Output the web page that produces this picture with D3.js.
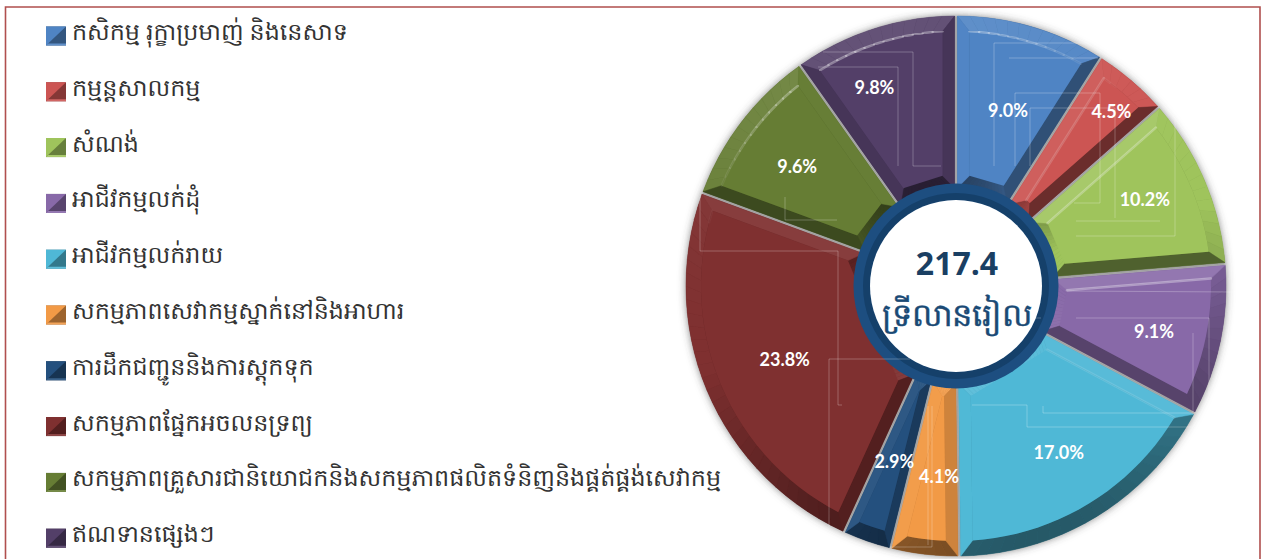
<!DOCTYPE html>
<html>
<head>
<meta charset="utf-8">
<script src="https://cdnjs.cloudflare.com/ajax/libs/d3/7.8.5/d3.min.js"></script>
<style>
html, body { margin: 0; padding: 0; background: #fff; }
svg { display: block; }
.legend text { text-rendering: geometricPrecision; }
</style>
</head>
<body>
<div id="chart"></div>
<script>
// sector names, clockwise from the top of the pie
var categories = [
    "កសិកម្ម រុក្ខាប្រមាញ់ និងនេសាទ",
    "កម្មន្តសាលកម្ម",
    "សំណង់",
    "អាជីវកម្មលក់ដុំ",
    "អាជីវកម្មលក់រាយ",
    "សកម្មភាពសេវាកម្មស្នាក់នៅនិងអាហារ",
    "ការដឹកជញ្ជូននិងការស្តុកទុក",
    "សកម្មភាពផ្នែកអចលនទ្រព្យ",
    "សកម្មភាពគ្រួសារជានិយោជកនិងសកម្មភាពផលិតទំនិញនិងផ្គត់ផ្គង់សេវាកម្ម",
    "ឥណទានផ្សេងៗ"
];
var values = [9.0, 4.5, 10.2, 9.1, 17.0, 4.1, 2.9, 23.8, 9.6, 9.8];
var colors = ["#4f84c4", "#cc5553", "#9fc45c", "#8869a8", "#4fb8d6", "#f29a46", "#24507e", "#7f3030", "#667d34", "#533f68"];
var centerValue = "217.4";
var centerUnit = "ទ្រីលានរៀល";

// layout only: how far each % label sits from its slice centroid
var labelNudge = [[-1, 7], [32, -30], [14, -12], [12, 7], [4, 4], [5, 2], [1, -4], [4, 0], [-8, -4], [-24, -17]];

// the faint stray box lines that sit on top of the pie in the original
var strayLines = [
    [[994, 166], [994, 43], [1089, 43]],
    [[1009, 58], [1098, 58]],
    [[1015, 166], [1015, 93], [1100, 93], [1100, 203], [1074, 203]],
    [[1030, 166], [1030, 108], [1115, 108], [1115, 218]],
    [[1076, 221], [1160, 221]],
    [[1076, 236], [1175, 236], [1175, 120]],
    [[823, 52], [913, 52], [913, 166], [941, 166]],
    [[818, 67], [898, 67], [898, 166]],
    [[941, 15], [941, 9], [969, 9], [969, 15]],
    [[785, 197], [785, 220], [837, 220]],
    [[700, 197], [700, 251], [838, 251], [838, 405], [842, 405]],
    [[829, 527], [829, 359], [910, 359]],
    [[932, 406], [932, 547], [890, 547]],
    [[928, 406], [928, 545]],
    [[972, 405], [1027, 405], [1027, 427], [1193, 427]],
    [[1043, 406], [1043, 413], [1193, 413]],
    [[1076, 318], [1209, 318], [1209, 395]],
    [[1193, 333], [1193, 412]],
    [[1067, 291], [1236, 292]],
    [[1033, 318], [1041, 318]]
];

var width = 1262, height = 559;
var cx = 956, cy = 286;
var r1 = 270, r0 = 98;          // slice radii
var bevelOuter = 15, bevelInner = 13, gap = 1.4;
var light = [-0.3, -0.95];      // direction the bevels are lit from

var svg = d3.select("#chart").append("svg").attr("width", width).attr("height", height);

var defs = svg.append("defs");
var blur = defs.append("filter").attr("id", "pieShadow")
    .attr("x", "-5%").attr("y", "-5%").attr("width", "110%").attr("height", "110%");
blur.append("feDropShadow").attr("dx", 0).attr("dy", 0)
    .attr("stdDeviation", 4).attr("flood-color", "#444").attr("flood-opacity", 0.75);
var soft = defs.append("filter").attr("id", "softEdge");
soft.append("feGaussianBlur").attr("stdDeviation", 0.5);

// frame
svg.append("path")
    .attr("d", "M5.5,559V7H1260V559")
    .attr("fill", "none")
    .attr("stroke", "#b04f4e")
    .attr("stroke-width", 1.6);

var pie = d3.pie().value(function(d) { return d; }).sort(null);
var arcs = pie(values);
var g = svg.append("g").attr("transform", "translate(" + cx + "," + cy + ")");

function polar(a, r) { return [r * Math.sin(a), -r * Math.cos(a)]; }
function shade(base, n) {
    var s = n[0] * light[0] + n[1] * light[1];
    return s > 0 ? d3.interpolateRgb(base, "#fff")(s * s * 0.1) : d3.interpolateRgb(base, "#000")(-s * 0.52);
}
var poly = d3.line();

// grey under-layer shows through the gaps and carries the shadow
var under = g.append("g").attr("filter", "url(#pieShadow)");
under.selectAll("path").data(arcs).enter().append("path")
    .attr("d", d3.arc().innerRadius(r0).outerRadius(r1 - 0.5))
    .attr("fill", "#a8a8a8");

arcs.forEach(function(d, i) {
    var base = colors[i];
    var a0 = d.startAngle, a1 = d.endAngle, mid = (a0 + a1) / 2;
    var layer = g.append("g");
    var side = Math.min(12, (a1 - a0) * 185 * 0.25) + gap;
    var rOut = r1 - bevelOuter, rIn = r0 + bevelInner;

    // edge of the slice at radius r, pulled in by p px on both sides
    function edge(r, p) {
        var off = Math.asin(Math.min(1, p / r));
        return [a0 + off, a1 - off];
    }
    var bo = edge(r1, gap), bi = edge(r0, gap), fo = edge(rOut, side), fi = edge(rIn, side);
    var faceIn = rIn;
    if (fi[0] >= fi[1]) {
        // narrow slice: the two side bevels meet before the inner bevel
        faceIn = side / Math.sin((a1 - a0) / 2);
        fi = [mid, mid];
    }

    function facet(pts, n) {
        var col = shade(base, n);
        layer.append("path").attr("d", poly(pts) + "Z")
            .attr("fill", col).attr("stroke", col).attr("stroke-width", 0.5);
    }
    function lerp(p, t) { return p[0] + (p[1] - p[0]) * t; }

    // base slice, so nothing leaks between the facets
    layer.append("path")
        .attr("d", d3.arc()({innerRadius: r0, outerRadius: r1, startAngle: a0, endAngle: a1, padAngle: 2 * gap / r1, padRadius: r1}))
        .attr("fill", d3.interpolateRgb(base, "#000")(0.3));

    // outer and inner bevels, stepped so the light changes along the arc
    var steps = Math.max(4, Math.ceil((a1 - a0) / 0.05));
    d3.range(steps).forEach(function(k) {
        var t0 = k / steps, t1 = (k + 1) / steps, tm = (t0 + t1) / 2;
        var am = lerp([a0, a1], tm);
        facet([polar(lerp(bo, t0), r1), polar(lerp(bo, t1), r1), polar(lerp(fo, t1), rOut), polar(lerp(fo, t0), rOut)],
            [Math.sin(am), -Math.cos(am)]);
        facet([polar(lerp(bi, t0), r0), polar(lerp(bi, t1), r0), polar(lerp(fi, t1), faceIn), polar(lerp(fi, t0), faceIn)],
            [-Math.sin(am), Math.cos(am)]);
    });

    // side bevels
    var nStart = [-Math.cos(a0), -Math.sin(a0)], nEnd = [Math.cos(a1), Math.sin(a1)];
    facet([polar(bo[0], r1), polar(fo[0], rOut), polar(fi[0], faceIn), polar(bi[0], r0)], nStart);
    facet([polar(bo[1], r1), polar(fo[1], rOut), polar(fi[1], faceIn), polar(bi[1], r0)], nEnd);

    // flat top of the slice
    var top = [];
    d3.range(steps + 1).forEach(function(k) { top.push(polar(lerp(fo, k / steps), rOut)); });
    top.push(polar(fi[1], faceIn));
    if (fi[0] !== fi[1]) top.push(polar(fi[0], faceIn));
    layer.append("path").attr("d", poly(top) + "Z").attr("fill", base);

    // glossy ridge where a lit bevel meets the top
    function ridge(pts, n) {
        var s = n[0] * light[0] + n[1] * light[1];
        if (s < 0.55) return;
        layer.append("path").attr("d", poly(pts))
            .attr("fill", "none").attr("stroke", "#fff").attr("stroke-width", 2.5)
            .attr("stroke-opacity", (s - 0.55) * 0.8).attr("stroke-linecap", "round")
            .attr("filter", "url(#softEdge)");
    }
    ridge([polar(fo[0], rOut), polar(fi[0], faceIn)], nStart);
    d3.range(steps).forEach(function(k) {
        var am = lerp([a0, a1], (k + 0.5) / steps);
        ridge([polar(lerp(fo, k / steps), rOut), polar(lerp(fo, (k + 1) / steps), rOut)], [Math.sin(am), -Math.cos(am)]);
    });
});

// stray lines
svg.append("g").selectAll("path").data(strayLines).enter().append("path")
    .attr("d", poly)
    .attr("fill", "none")
    .attr("stroke", "#fff")
    .attr("stroke-opacity", 0.25)
    .attr("stroke-width", 1);

// centre ring
g.append("circle").attr("r", 102.5).attr("fill", "#1d4e80");
g.append("path")
    .attr("d", d3.arc().innerRadius(86).outerRadius(93).startAngle(0).endAngle(2 * Math.PI))
    .attr("fill", "#15406a");
g.append("circle").attr("r", 86).attr("fill", "#fff");

g.append("text")
    .attr("x", 1).attr("y", -11.5)
    .attr("text-anchor", "middle")
    .attr("font-family", "'Open Sans', sans-serif")
    .attr("font-weight", 700)
    .attr("font-size", 32)
    .attr("fill", "#1a3f63")
    .text(centerValue);
g.append("text")
    .attr("x", 1).attr("y", 40)
    .attr("text-anchor", "middle")
    .attr("font-size", 32)
    .attr("fill", "#1a4a75")
    .attr("stroke", "#1a4a75")
    .attr("stroke-width", 0.4)
    .text(centerUnit);

// % labels
var labelArc = d3.arc().innerRadius(190).outerRadius(190);
g.selectAll(".pct").data(arcs).enter().append("text")
    .attr("class", "pct")
    .attr("x", function(d, i) { return labelArc.centroid(d)[0] + labelNudge[i][0]; })
    .attr("y", function(d, i) { return labelArc.centroid(d)[1] + labelNudge[i][1]; })
    .attr("dy", "0.35em")
    .attr("text-anchor", "middle")
    .attr("font-family", "Lato, sans-serif")
    .attr("font-weight", 700)
    .attr("font-size", 18)
    .attr("fill", "#fff")
    .text(function(d) { return d.value.toFixed(1) + "%"; });

// legend
var rowY = d3.scalePoint().domain(d3.range(categories.length)).range([36, 538.2]);
var rows = svg.selectAll(".legend").data(categories).enter().append("g")
    .attr("class", "legend")
    .attr("transform", function(d, i) { return "translate(46," + rowY(i) + ")"; });
rows.append("rect").attr("x", 0).attr("y", -9.5).attr("width", 20).attr("height", 19)
    .attr("fill", function(d, i) { return d3.interpolateRgb(colors[i], "#000")(0.35); });
rows.append("path")
    .attr("d", poly([[0, -9.5], [20, -9.5], [0, 9.5]]) + "Z")
    .attr("fill", function(d, i) { return colors[i]; });
rows.append("path")
    .attr("d", poly([[0, 9.5], [20, 9.5], [20, 7.5], [2, 7.5]]) + "Z")
    .attr("fill", function(d, i) { return d3.interpolateRgb(colors[i], "#fff")(0.1); });
rows.append("text")
    .attr("x", 26)
    .attr("y", 4)
    .attr("font-size", 23.8)
    .attr("fill", "#333")
    .text(function(d) { return d; });
</script>
</body>
</html>
